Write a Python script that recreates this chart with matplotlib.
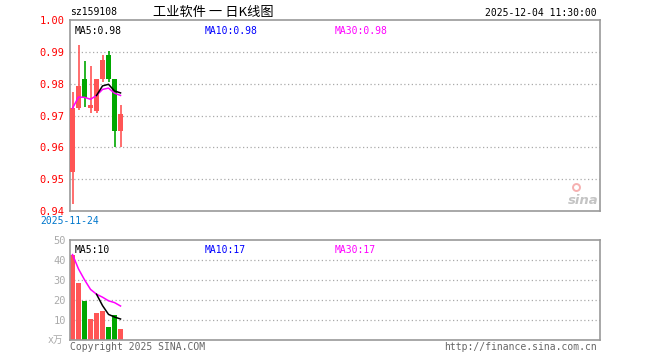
"""
Daily K-line chart (sz159108) with volume panel, sina finance style.
"""
import numpy as np
import matplotlib
matplotlib.use("Agg")
import matplotlib.pyplot as plt
from matplotlib.patches import Rectangle

plt.rcParams['font.family'] = ['DejaVu Sans Mono', 'Noto Sans CJK SC']

# ---- data ----
opens = [0.9524, 0.9723, 0.9814, 0.9723, 0.9715, 0.9814, 0.9891, 0.9814, 0.9652]
closes = [0.9723, 0.9792, 0.9755, 0.9732, 0.9814, 0.9873, 0.9814, 0.9652, 0.9704]
highs = [0.9774, 0.9923, 0.9872, 0.9854, 0.9814, 0.9891, 0.9902, 0.9814, 0.9732]
lows = [0.9421, 0.9716, 0.9728, 0.9709, 0.9708, 0.9805, 0.9805, 0.9600, 0.9600]
volumes = [42.7, 28.3, 19.3, 10.7, 13.3, 14.3, 6.3, 12.7, 5.7]

price_ma5 = [np.nan, np.nan, np.nan, np.nan, 0.9763, 0.9793, 0.9798, 0.9777, 0.9771]
price_ma30 = [0.9723, 0.9758, 0.9757, 0.9751, 0.9763, 0.9782, 0.9786, 0.9770, 0.9763]
vol_ma5 = [np.nan, np.nan, np.nan, np.nan, 22.9, 17.2, 12.8, 11.5, 10.5]
vol_ma30 = [42.7, 35.5, 30.1, 25.3, 22.9, 21.4, 19.6, 18.7, 17.0]

price_ticks = [0.94, 0.95, 0.96, 0.97, 0.98, 0.99, 1.00]
vol_ticks = [10, 20, 30, 40, 50]

RED = '#ff5555'
GREEN = '#00a800'
BORDER = '#999999'
GRID = '#aaaaaa'

W, H = 660, 360
fig = plt.figure(figsize=(W / 100, H / 100), dpi=100)


def px_axes(x0, y0, x1, y1):
    return fig.add_axes([x0 / W, 1 - y1 / H, (x1 - x0) / W, (y1 - y0) / H])


ax = px_axes(70, 20, 600, 211)
axv = px_axes(70, 240, 600, 340)

# 6 px per candle slot
xmin = -0.42
xmax = xmin + 530 / 6
x = np.arange(len(opens))

for a in (ax, axv):
    a.set_xlim(xmin, xmax)
    a.set_xticks([])
    for s in a.spines.values():
        s.set_color(BORDER)
        s.set_linewidth(1.2)
    a.tick_params(axis='y', length=0, labelsize=7.5)
ax.tick_params(axis='y', pad=4)
axv.tick_params(axis='y', pad=3)

# price panel
ax.set_ylim(0.94, 1.00)
for t in price_ticks[1:-1]:
    ax.axhline(t, color=GRID, linestyle=(0, (1, 2)), linewidth=0.9, zorder=0)
ax.set_yticks(price_ticks)
ax.set_yticklabels([f'{t:.2f}' for t in price_ticks], color='red')

for i in range(len(opens)):
    up = closes[i] >= opens[i]
    c = RED if up else GREEN
    ax.vlines(x[i], lows[i], highs[i], color=c, linewidth=1.2, zorder=2)
    lo = min(opens[i], closes[i])
    h = max(abs(closes[i] - opens[i]), 0.0003)
    ax.add_patch(Rectangle((x[i] - 0.42, lo), 0.84, h, facecolor=c,
                           edgecolor='none', zorder=3))

ax.plot(x, price_ma30, color='#ff00ff', linewidth=1.1, zorder=4)
ax.plot(x, price_ma5, color='black', linewidth=1.1, zorder=5)

ax.text(5 / 530, 0.97, 'MA5:0.98', transform=ax.transAxes, fontsize=7,
        color='black', va='top')
ax.text(135 / 530, 0.97, 'MA10:0.98', transform=ax.transAxes, fontsize=7,
        color='#0000ff', va='top')
ax.text(265 / 530, 0.97, 'MA30:0.98', transform=ax.transAxes, fontsize=7,
        color='#ff00ff', va='top')

# sina logo
ax.text(0.997, 0.02, 'sina', transform=ax.transAxes, fontsize=9.5,
        color='#c4c4c4', style='italic', fontweight='bold', ha='right',
        va='bottom', family='DejaVu Sans')
ax.plot([0.955], [0.125], 'o', transform=ax.transAxes, markersize=5,
        markerfacecolor='none', markeredgecolor='#f6b0b0', markeredgewidth=1.4)

# volume panel
axv.set_ylim(0, 50)
for t in vol_ticks[:-1]:
    axv.axhline(t, color=GRID, linestyle=(0, (1, 2)), linewidth=0.9, zorder=0)
axv.set_yticks(vol_ticks)
axv.set_yticklabels([str(t) for t in vol_ticks], color=GRID)

vcolors = [RED if closes[i] >= opens[i] else GREEN for i in range(len(opens))]
axv.bar(x, volumes, width=0.84, color=vcolors, zorder=2)
axv.plot(x, vol_ma30, color='#ff00ff', linewidth=1.1, zorder=4)
axv.plot(x, vol_ma5, color='black', linewidth=1.1, zorder=5)

axv.text(5 / 530, 0.95, 'MA5:10', transform=axv.transAxes, fontsize=7,
         color='black', va='top')
axv.text(135 / 530, 0.95, 'MA10:17', transform=axv.transAxes, fontsize=7,
         color='#0000ff', va='top')
axv.text(265 / 530, 0.95, 'MA30:17', transform=axv.transAxes, fontsize=7,
         color='#ff00ff', va='top')

# header / footer texts
fig.text(70 / W, 1 - 12 / H, 'sz159108', fontsize=7, va='center', ha='left')
fig.text(213 / W, 1 - 12 / H, '工业软件 一 日K线图', fontsize=9.5, va='center',
         ha='center', family=['Noto Sans CJK SC', 'DejaVu Sans'])
fig.text(597 / W, 1 - 12.5 / H, '2025-12-04 11:30:00', fontsize=7,
         va='center', ha='right')
fig.text(40 / W, 1 - 221 / H, '2025-11-24', fontsize=7, va='center',
         ha='left', color='#0077cc')
fig.text(48 / W, 1 - 340 / H, 'x万', fontsize=7, va='center', ha='left',
         color=GRID, family=['DejaVu Sans Mono', 'Noto Sans CJK SC'])
fig.text(70 / W, 1 - 347 / H, 'Copyright 2025 SINA.COM', fontsize=7,
         va='center', ha='left', color='#666666')
fig.text(597 / W, 1 - 347 / H, 'http://finance.sina.com.cn', fontsize=7,
         va='center', ha='right', color='#666666')

fig.savefig('out.png', dpi=100)
